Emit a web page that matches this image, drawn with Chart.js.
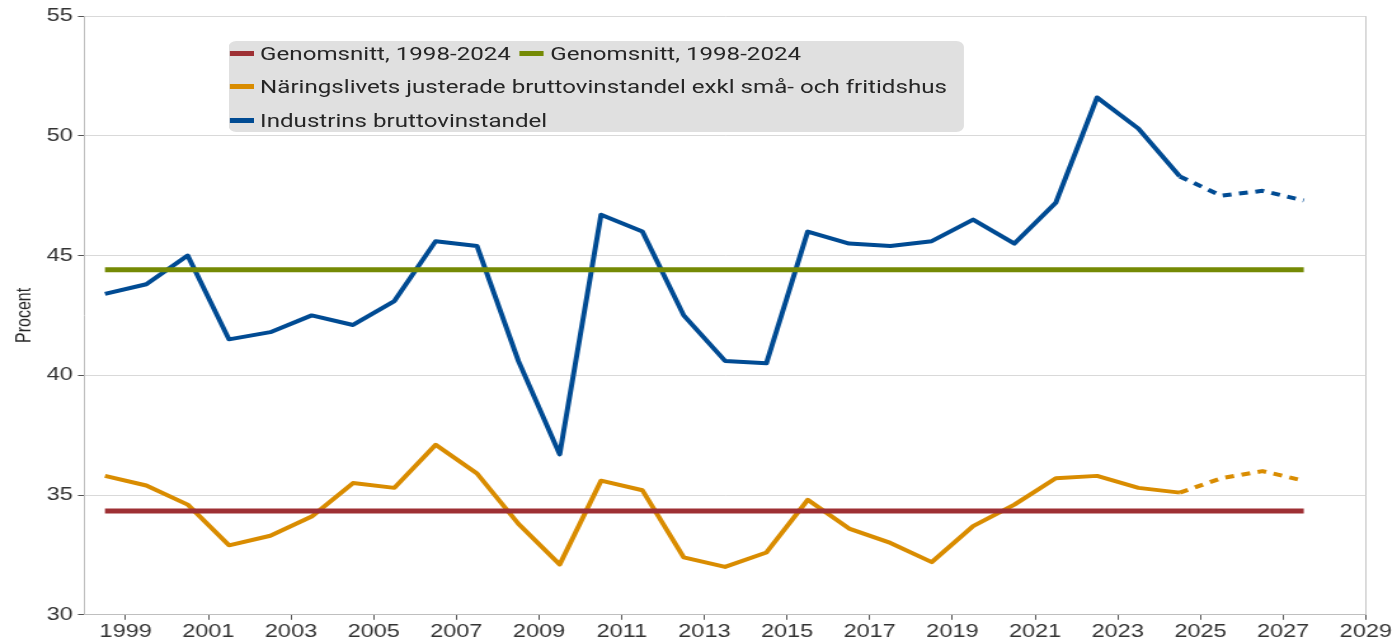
<!DOCTYPE html>
<html>
<head>
<meta charset="utf-8">
<script src="https://cdn.jsdelivr.net/npm/chart.js@4/dist/chart.umd.min.js"></script>
<style>
  html, body { margin: 0; padding: 0; background: #fff; overflow: hidden; }
  /* the original figure is stretched sideways, so the whole chart is drawn narrow and widened */
  #wrap { position: relative; width: 1097px; height: 644px; transform: scaleX(1.27); transform-origin: 0 0; }
  #legend {
    position: absolute; left: 179.5px; top: 41px; width: 579px; height: 91px;
    background: #e0e0e0; border-radius: 6px; box-sizing: border-box;
    padding: 0 0 0 1.3px; display: flex; flex-wrap: wrap; align-content: flex-start; row-gap: 9.5px;
    font-family: Roboto, sans-serif; font-size: 19px; color: #262626;
  }
  #legend .item { display: flex; align-items: center; height: 24px; margin-right: 7px; white-space: nowrap; }
  #legend .swatch { width: 19px; height: 5px; margin-right: 5px; }
</style>
</head>
<body>
<div id="wrap">
  <canvas id="chart" width="1097" height="644"></canvas>
  <div id="legend"></div>
</div>
<script>
var years = [1998, 1999, 2000, 2001, 2002, 2003, 2004, 2005, 2006, 2007,
             2008, 2009, 2010, 2011, 2012, 2013, 2014, 2015, 2016, 2017,
             2018, 2019, 2020, 2021, 2022, 2023, 2024, 2025, 2026, 2027];
var lastOutcome = 2024;

var naringsliv = [35.8, 35.4, 34.6, 32.9, 33.3, 34.1, 35.5, 35.3, 37.1, 35.9,
                  33.8, 32.1, 35.6, 35.2, 32.4, 32.0, 32.6, 34.8, 33.6, 33.0,
                  32.2, 33.7, 34.6, 35.7, 35.8, 35.3, 35.1, 35.7, 36.0, 35.6];
var industri = [43.4, 43.8, 45.0, 41.5, 41.8, 42.5, 42.1, 43.1, 45.6, 45.4,
                40.6, 36.7, 46.7, 46.0, 42.5, 40.6, 40.5, 46.0, 45.5, 45.4,
                45.6, 46.5, 45.5, 47.2, 51.6, 50.3, 48.3, 47.5, 47.7, 47.3];
var snittNaringsliv = 34.33;
var snittIndustri = 44.41;

var tickYears = [1999, 2001, 2003, 2005, 2007, 2009, 2011, 2013, 2015,
                 2017, 2019, 2021, 2023, 2025, 2027, 2029];

// points sit mid-year between the year ticks
function series(vals) {
  return years.map(function(y, i) { return {x: y + 0.5, y: vals[i]}; });
}
function flat(v) {
  return years.map(function(y) { return {x: y + 0.5, y: v}; });
}
var forecastDash = {
  borderDash: function(ctx) { return ctx.p0.parsed.x >= lastOutcome + 0.5 ? [7, 6] : undefined; }
};

var datasets = [
  {label: 'Genomsnitt, 1998-2024', data: flat(snittNaringsliv), borderColor: '#9e3034', borderWidth: 5},
  {label: 'Genomsnitt, 1998-2024', data: flat(snittIndustri), borderColor: '#758a05', borderWidth: 5},
  {label: 'Näringslivets justerade bruttovinstandel exkl små- och fritidshus', data: series(naringsliv),
   borderColor: '#d98c00', borderWidth: 4, segment: forecastDash},
  {label: 'Industrins bruttovinstandel', data: series(industri),
   borderColor: '#004b93', borderWidth: 4, segment: forecastDash}
];

var tickFont = {family: "'Liberation Sans', Arial, sans-serif", size: 18.5};

var ctx = document.getElementById('chart').getContext('2d');
var chart = new Chart(ctx, {
  type: 'line',
  data: {datasets: datasets},
  options: {
    responsive: false,
    animation: false,
    layout: {padding: {top: 16, right: 21, left: 5.6, bottom: 0}},
    elements: {point: {radius: 0}, line: {tension: 0, borderJoinStyle: 'round'}},
    plugins: {legend: {display: false}, tooltip: {enabled: false}},
    scales: {
      x: {
        type: 'linear', min: 1998, max: 2029,
        afterBuildTicks: function(axis) { axis.ticks = tickYears.map(function(v) { return {value: v}; }); },
        ticks: {
          autoSkip: false, maxRotation: 0, padding: 1,
          color: '#333', font: tickFont,
          callback: function(v) { return String(v); }
        },
        grid: {
          drawOnChartArea: true, tickLength: 5, tickColor: '#555',
          color: function(c) { return c.tick && c.tick.value === 2029 ? '#c8c8c8' : 'rgba(0,0,0,0)'; }
        },
        border: {color: '#bfbfbf'}
      },
      y: {
        min: 30, max: 55,
        ticks: {stepSize: 5, padding: 4, color: '#333', font: tickFont},
        grid: {color: '#d9d9d9', tickLength: 5, tickColor: '#555'},
        border: {color: '#bfbfbf'},
        title: {display: true, text: 'Procent', color: '#262626', padding: 4,
                font: {family: "'Liberation Sans', Arial, sans-serif", size: 16}}
      }
    }
  }
});

var legend = document.getElementById('legend');
datasets.forEach(function(ds) {
  var item = document.createElement('div');
  item.className = 'item';
  item.innerHTML = '<span class="swatch" style="background:' + ds.borderColor + '"></span><span>' + ds.label + '</span>';
  legend.appendChild(item);
});
</script>
</body>
</html>
